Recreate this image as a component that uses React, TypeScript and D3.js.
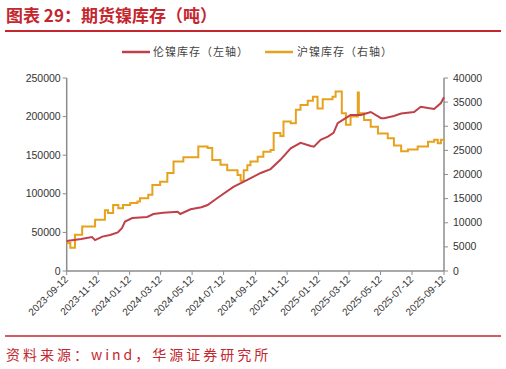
import React from 'react';
import * as d3 from 'd3';

// 伦镍库存（左轴）
const lmeDates = [
  '2023-09-12', '2023-10-10', '2023-10-31', '2023-11-06', '2023-11-20', '2023-12-05', '2023-12-20',
  '2023-12-28', '2024-01-03', '2024-01-17', '2024-02-15', '2024-02-27', '2024-03-17', '2024-04-14',
  '2024-04-19', '2024-05-09', '2024-05-30', '2024-06-11', '2024-06-30', '2024-07-31', '2024-08-27',
  '2024-09-22', '2024-10-11', '2024-10-30', '2024-11-19', '2024-12-08', '2024-12-28', '2025-01-03',
  '2025-01-16', '2025-01-30', '2025-02-10', '2025-02-18', '2025-03-10', '2025-03-15', '2025-04-04',
  '2025-04-23', '2025-05-13', '2025-05-19', '2025-06-07', '2025-06-21', '2025-07-16', '2025-07-29',
  '2025-08-12', '2025-08-24', '2025-09-06', '2025-09-12',
];
const lmeValues = [
  39000, 41500, 44000, 40000, 44500, 46600, 50000,
  55600, 64000, 68600, 70000, 73800, 75500, 76800,
  73800, 80000, 82500, 85500, 94500, 109000, 118000,
  127000, 132000, 144000, 159000, 166000, 162000, 161000,
  170000, 174000, 179000, 191600, 200000, 202000, 202000,
  206000, 198000, 198000, 200700, 204000, 206000, 212700,
  211000, 209800, 217600, 225000,
];

// 沪镍库存（右轴）
const shfeDates = [
  '2023-09-12', '2023-09-19', '2023-09-28', '2023-10-12', '2023-11-06', '2023-11-25', '2023-12-01',
  '2023-12-11', '2023-12-21', '2023-12-30', '2024-01-13', '2024-01-27', '2024-02-01', '2024-02-17',
  '2024-02-25', '2024-03-11', '2024-03-25', '2024-04-06', '2024-04-25', '2024-05-24', '2024-06-11',
  '2024-06-20', '2024-07-06', '2024-07-19', '2024-08-08', '2024-08-14', '2024-08-20', '2024-08-27',
  '2024-09-02', '2024-09-16', '2024-09-27', '2024-10-11', '2024-10-17', '2024-10-30', '2024-11-05',
  '2024-11-19', '2024-11-29', '2024-12-08', '2024-12-22', '2025-01-01', '2025-01-10', '2025-01-20',
  '2025-02-08', '2025-02-14', '2025-02-26', '2025-03-06', '2025-03-15', '2025-03-29', '2025-03-31',
  '2025-04-10', '2025-04-23', '2025-05-07', '2025-05-26', '2025-06-07', '2025-06-21', '2025-07-04',
  '2025-07-23', '2025-08-12', '2025-08-24', '2025-08-31', '2025-09-06', '2025-09-12',
];
const shfeValues = [
  5800, 4800, 7500, 9200, 10600, 12600, 12000,
  13700, 13000, 13700, 14100, 14400, 15100, 15800,
  17800, 18500, 20300, 22700, 23600, 25800, 25500,
  23000, 22000, 20900, 19900, 18700, 20900, 21900,
  22700, 23700, 24700, 25100, 28600, 28000, 31000,
  30600, 33400, 34400, 35300, 36100, 33700, 35600,
  36100, 37200, 32700, 30300, 32000, 37000, 32700,
  31300, 29900, 28500, 27500, 26000, 24800, 25200,
  25800, 26800, 27200, 26500, 27200, 27300,
];

const xTickLabels = [
  '2023-09-12', '2023-11-12', '2024-01-12', '2024-03-12', '2024-05-12', '2024-07-12', '2024-09-12',
  '2024-11-12', '2025-01-12', '2025-03-12', '2025-05-12', '2025-07-12', '2025-09-12',
];
const leftTicks = [0, 50000, 100000, 150000, 200000, 250000];
const rightTicks = [0, 5000, 10000, 15000, 20000, 25000, 30000, 35000, 40000];

const RED = '#C0404A';
const GOLD = '#E6A21C';
const TITLE_RED = '#C4262E';
const AXIS = '#8c8c8c';
const cjk = '"Noto Sans CJK SC", sans-serif';
const latin = '"Liberation Sans", Arial, sans-serif';

const parse = d3.timeParse('%Y-%m-%d');

export default function App() {
  const W = 506;
  const H = 369;
  const left = 66.7;
  const right = 444;
  const top = 78;
  const bottom = 271;

  const x = d3.scaleTime()
    .domain([parse('2023-09-12')!, parse('2025-09-12')!])
    .range([left, right]);
  const yL = d3.scaleLinear().domain([0, 250000]).range([bottom, top]);
  const yR = d3.scaleLinear().domain([0, 40000]).range([bottom, top]);

  const lme = lmeDates.map((d, i) => ({ date: parse(d)!, v: lmeValues[i] }));
  const shfe = shfeDates.map((d, i) => ({ date: parse(d)!, v: shfeValues[i] }));

  const lmeLine = d3.line<{ date: Date; v: number }>()
    .x(d => x(d.date))
    .y(d => yL(d.v));
  const shfeLine = d3.line<{ date: Date; v: number }>()
    .x(d => x(d.date))
    .y(d => yR(d.v))
    .curve(d3.curveStepAfter);

  return (
    <svg width={W} height={H} style={{ position: 'absolute', left: 0, top: 0, background: '#fff' }}>
      {/* title */}
      <text x={6} y={22} fontFamily={cjk} fontWeight="bold" fontSize={17} fill={TITLE_RED}>
        图表 29：期货镍库存（吨）
      </text>
      <line x1={5} x2={501} y1={31} y2={31} stroke={TITLE_RED} strokeWidth={2} />

      {/* legend */}
      <line x1={122} x2={150} y1={52} y2={52} stroke={RED} strokeWidth={2.5} />
      <text x={153} y={56} fontFamily={cjk} fontSize={11} letterSpacing={1} fill="#444">伦镍库存（左轴）</text>
      <line x1={265} x2={293} y1={52} y2={52} stroke={GOLD} strokeWidth={2.5} />
      <text x={297} y={56} fontFamily={cjk} fontSize={11} letterSpacing={1} fill="#444">沪镍库存（右轴）</text>

      {/* axes */}
      <line x1={left} x2={left} y1={top} y2={bottom} stroke={AXIS} strokeWidth={1.5} />
      <line x1={right} x2={right} y1={top} y2={bottom} stroke={AXIS} strokeWidth={1.5} />
      <line x1={left} x2={right} y1={bottom} y2={bottom} stroke={AXIS} strokeWidth={1.5} />

      {leftTicks.map(t => (
        <g key={'l' + t}>
          <line x1={left - 4} x2={left} y1={yL(t)} y2={yL(t)} stroke={AXIS} />
          <text x={left - 6} y={yL(t) + 3.5} textAnchor="end" fontFamily={latin} fontSize={10.5} fill="#333">{t}</text>
        </g>
      ))}
      {rightTicks.map(t => (
        <g key={'r' + t}>
          <line x1={right} x2={right + 4} y1={yR(t)} y2={yR(t)} stroke={AXIS} />
          <text x={right + 9} y={yR(t) + 3.5} textAnchor="start" fontFamily={latin} fontSize={10.5} fill="#333">{t}</text>
        </g>
      ))}
      {xTickLabels.map(t => {
        const px = x(parse(t)!);
        return (
          <g key={'x' + t}>
            <line x1={px} x2={px} y1={bottom} y2={bottom + 4} stroke={AXIS} />
            <text
              transform={`translate(${px + 2},${bottom + 9}) rotate(-45)`}
              textAnchor="end"
              fontFamily={latin}
              fontSize={10}
              fill="#333"
            >{t}</text>
          </g>
        );
      })}

      {/* series */}
      <path d={shfeLine(shfe) ?? ''} fill="none" stroke={GOLD} strokeWidth={2} />
      <path d={lmeLine(lme) ?? ''} fill="none" stroke={RED} strokeWidth={2} />

      {/* source */}
      <line x1={5} x2={501} y1={336} y2={336} stroke={TITLE_RED} strokeWidth={1.5} />
      <text x={6} y={360} fontFamily={cjk} fontSize={14} letterSpacing={3} fill={TITLE_RED}>
        资料来源：wind，华源证券研究所
      </text>
    </svg>
  );
}
